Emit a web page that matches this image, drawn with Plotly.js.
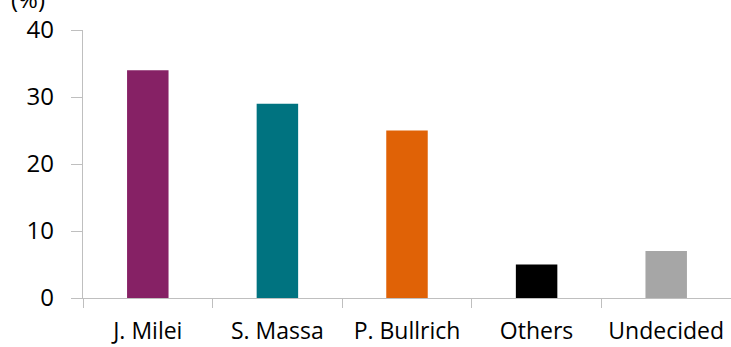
<!DOCTYPE html>
<html><head><meta charset="utf-8">
<script src="https://cdn.plot.ly/plotly-3.0.1.min.js"></script>
<style>html,body{margin:0;padding:0;background:#fff}#c{width:731px;height:347px}</style>
</head><body><div id="c"></div>
<script>
const categories = ["J. Milei", "S. Massa", "P. Bullrich", "Others", "Undecided"];
const values = [34, 29, 25, 5, 7];
const colors = ["#862165", "#007380", "#E06206", "#000000", "#A6A6A6"];
const yTicks = [0, 10, 20, 30, 40];

const font = {family: "Open Sans, Liberation Sans, sans-serif", size: 24, color: "#000"};
const xfont = {family: "Open Sans, Liberation Sans, sans-serif", size: 23, color: "#000"};
Plotly.newPlot("c", [{
  type: "bar", x: categories, y: values,
  marker: {color: colors}, hoverinfo: "skip"
}], {
  width: 731, height: 347,
  margin: {l: 83, r: 0, t: 30, b: 49},
  paper_bgcolor: "#fff", plot_bgcolor: "#fff",
  bargap: 0.68,
  showlegend: false,
  font: font,
  xaxis: {
    type: "category", showline: true, linecolor: "#BFBFBF", linewidth: 1.3,
    ticks: "outside", tickson: "boundaries", ticklen: 9, tickcolor: "#BFBFBF", tickangle: 0,
    showgrid: false, zeroline: false, tickfont: xfont, ticklabelstandoff: 12
  },
  yaxis: {
    range: [0, 40], tickvals: yTicks, showline: true, linecolor: "#BFBFBF", linewidth: 1.3,
    ticks: "outside", ticklen: 11, tickcolor: "#BFBFBF", showgrid: false, zeroline: false,
    tickfont: font, ticklabelstandoff: 12
  },
  annotations: [{
    text: "(%)", xref: "paper", yref: "paper", x: -0.085, y: 1.05, xanchor: "center", yanchor: "bottom",
    showarrow: false, font: font
  }]
}, {staticPlot: true, displayModeBar: false});
</script></body></html>
